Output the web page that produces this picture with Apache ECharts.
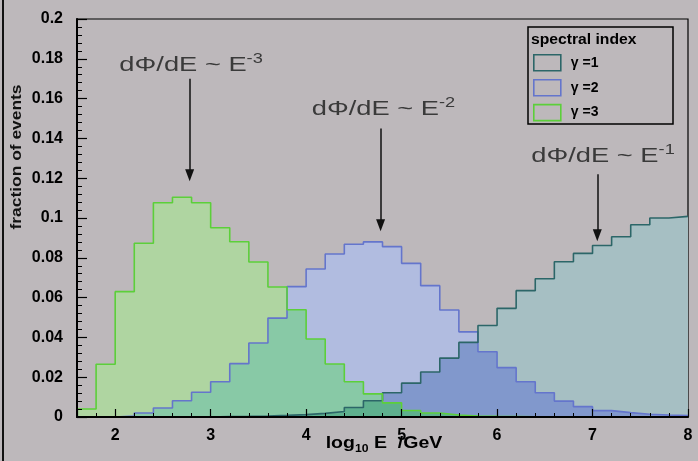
<!DOCTYPE html>
<html>
<head>
<meta charset="utf-8">
<script src="https://cdn.jsdelivr.net/npm/echarts@6/dist/echarts.min.js"></script>
<style>
  html, body { margin: 0; padding: 0; background: #bdb8bb; }
  #chart { width: 698px; height: 461px; }
</style>
</head>
<body>
<div id="chart"></div>
<script>
// Binning in log10(E / GeV)
const binStart = 1.6;
const binWidth = 0.2;

// Fraction of events per bin for each spectral index
const gamma1 = [0, 0, 0, 0, 0, 0, 0, 0.0002, 0.0003, 0.0005, 0.0008, 0.0012, 0.0018, 0.0028, 0.0048, 0.0082,
                0.0122, 0.017, 0.0226, 0.0296, 0.0375, 0.046, 0.0546, 0.0635, 0.0695, 0.078, 0.0822, 0.0862,
                0.0906, 0.0966, 0.1, 0.1008];
const gamma2 = [0, 0, 0.0005, 0.002, 0.0045, 0.0082, 0.0124, 0.0177, 0.0268, 0.0372, 0.0497, 0.0655, 0.0744,
                0.0819, 0.0868, 0.088, 0.0856, 0.0772, 0.066, 0.0538, 0.0428, 0.0328, 0.0248, 0.0177, 0.0122,
                0.008, 0.0052, 0.0032, 0.0022, 0.0014, 0.001, 0.0007];
const gamma3 = [0.004, 0.0265, 0.063, 0.0873, 0.1077, 0.1104, 0.1077, 0.0951, 0.0881, 0.0779, 0.0653, 0.0539,
                0.0392, 0.0266, 0.0177, 0.0116, 0.0071, 0.0033, 0.002, 0.001, 0.0005, 0.0003, 0.0002, 0.0001,
                0.0001, 0, 0, 0, 0, 0, 0, 0];

const seriesNames = ['γ =1', 'γ =2', 'γ =3'];
const legendTitle = 'spectral index';

// Power-law annotations: text, arrow position (data units)
const annoText = ['dΦ/dE ~ E{sup|-3}', 'dΦ/dE ~ E{sup|-2}', 'dΦ/dE ~ E{sup|-1}'];
const annoArrowX = [2.78, 4.78, 7.05];
const annoArrowFrom = [0.170, 0.145, 0.122];
const annoArrowTo = [0.1215, 0.0963, 0.0913];
const annoTextAt = [[2.795, 0.1768], [4.81, 0.1545], [7.11, 0.1313]];

const lineColor = ['#2c6668', '#6475cc', '#5ccf3a'];
const fillSolo = ['#a6bfc3', '#b1bce0', '#afd5a1'];
const fillBoth12 = '#8198cc';
const fillBoth23 = '#88c9a6';
const fillBoth13 = '#7fbc9e';
const fillAll = '#5eb08e';
const FONT = '"Liberation Sans", Arial, Helvetica, sans-serif';

function steps(vals) {
  const pts = vals.map((v, i) => [+(binStart + i * binWidth).toFixed(2), v]);
  pts.push([+(binStart + vals.length * binWidth).toFixed(2), vals[vals.length - 1]]);
  return pts;
}
const minOf = (...arrs) => arrs[0].map((_, i) => Math.min(...arrs.map(a => a[i])));

function fillSeries(name, vals, color) {
  return {
    name: name, type: 'line', step: 'end', data: steps(vals),
    symbol: 'none', silent: true, animation: false,
    lineStyle: { width: 0 },
    areaStyle: { color: color, opacity: 1 },
    z: 2
  };
}

const gammas = [gamma1, gamma2, gamma3];
const series = [];
gammas.forEach((g, i) => series.push(fillSeries('fill' + i, g, fillSolo[i])));
series.push(fillSeries('fill12', minOf(gamma1, gamma2), fillBoth12));
series.push(fillSeries('fill23', minOf(gamma2, gamma3), fillBoth23));
series.push(fillSeries('fill13', minOf(gamma1, gamma3), fillBoth13));
series.push(fillSeries('fill123', minOf(gamma1, gamma2, gamma3), fillAll));

// outlines on top, each with its annotation arrow
[1, 0, 2].forEach(i => {
  const k = 2 - i; // gamma=3 arrow is leftmost
  series.push({
    name: seriesNames[i], type: 'line', step: 'end', data: steps(gammas[i]),
    symbol: 'none', silent: true, animation: false,
    lineStyle: { color: lineColor[i], width: 1.6 },
    itemStyle: { color: lineColor[i] },
    z: 3,
    markLine: {
      silent: true, animation: false,
      symbol: ['none', 'triangle'], symbolSize: [9, 12],
      lineStyle: { color: '#111', width: 1.5, type: 'solid' },
      label: { show: false },
      data: [[{ coord: [annoArrowX[k], annoArrowFrom[k]] }, { coord: [annoArrowX[k], annoArrowTo[k]] }]]
    }
  });
});

const chart = echarts.init(document.getElementById('chart'), null, { renderer: 'canvas' });

chart.setOption({
  backgroundColor: '#bdb8bb',
  animation: false,
  grid: { left: 77, top: 19, width: 611, height: 398, show: true, borderColor: '#000', borderWidth: 1.2, backgroundColor: 'transparent' },
  legend: {
    orient: 'vertical', left: 528, top: 49,
    itemWidth: 27, itemHeight: 16, itemGap: 7.3,
    icon: 'rect', selectedMode: false,
    textStyle: { color: '#000', fontSize: 14, fontWeight: 'bold', fontFamily: FONT, padding: [0, 0, 0, 5] },
    data: seriesNames.map((n, i) => ({
      name: n,
      itemStyle: { color: 'rgba(0,0,0,0)', borderColor: lineColor[i], borderWidth: 1.6 }
    }))
  },
  xAxis: {
    type: 'value', min: 1.6, max: 8, splitNumber: 7, z: 5,
    axisLine: { onZero: false, lineStyle: { color: '#000', width: 2 } },
    axisTick: { inside: true, length: 8, lineStyle: { color: '#000', width: 1.2 } },
    minorTick: { show: true, splitNumber: 5, length: 4, lineStyle: { color: '#000', width: 1 } },
    splitLine: { show: false },
    axisLabel: { showMinLabel: false, color: '#000', fontSize: 16, fontWeight: 'bold', fontFamily: FONT, margin: 11 }
  },
  yAxis: {
    type: 'value', min: 0, max: 0.2, interval: 0.02, z: 5,
    axisLine: { onZero: false, lineStyle: { color: '#000', width: 2 } },
    axisTick: { inside: true, length: 10, lineStyle: { color: '#000', width: 1.2 } },
    minorTick: { show: true, splitNumber: 5, length: 5, lineStyle: { color: '#000', width: 1 } },
    splitLine: { show: false },
    axisLabel: { color: '#000', fontSize: 16, fontWeight: 'bold', fontFamily: FONT, margin: 14 }
  },
  series: series
});

// Text overlays anchored through the grid's coordinate system
const toPx = (p) => chart.convertToPixel({ gridIndex: 0 }, p);
const graphics = [
  { type: 'line', silent: true, shape: { x1: 3, y1: 0, x2: 3, y2: 461 }, style: { stroke: '#111', lineWidth: 2 } },
  { type: 'rect', silent: true, z: 10, shape: { x: 528, y: 27, width: 145, height: 97 },
    style: { fill: 'none', stroke: '#000', lineWidth: 1.5 } },
  { type: 'text', silent: true, z: 10, x: 531, y: 40, scaleX: 1.12,
    style: { text: legendTitle, fill: '#000', font: 'bold 14px ' + FONT, verticalAlign: 'middle' } },
  { type: 'text', silent: true, z: 10, x: 384, y: 444, scaleX: 1.22,
    style: {
      text: 'log{s|10} E  /GeV', fill: '#000', font: 'bold 16px ' + FONT, align: 'center', verticalAlign: 'middle',
      rich: { s: { fontSize: 10, fontWeight: 'bold', fontFamily: FONT, padding: [10, 0, 0, 0] } }
    } },
  { type: 'text', silent: true, z: 10, x: 17, y: 157, rotation: Math.PI / 2, scaleX: 1.16,
    style: { text: 'fraction of events', fill: '#111', font: 'bold 15px ' + FONT, align: 'center', verticalAlign: 'middle' } }
];
annoText.forEach((t, i) => {
  const p = toPx(annoTextAt[i]);
  graphics.push({
    type: 'text', silent: true, z: 10, x: p[0], y: p[1], scaleX: 1.3,
    style: {
      text: t, fill: '#3a3a3a', font: '21px ' + FONT, align: 'center', verticalAlign: 'middle',
      rich: { sup: { fontSize: 14, fontFamily: FONT, fill: '#3a3a3a', padding: [0, 0, 12, 0] } }
    }
  });
});
chart.setOption({ graphic: graphics });
</script>
</body>
</html>
